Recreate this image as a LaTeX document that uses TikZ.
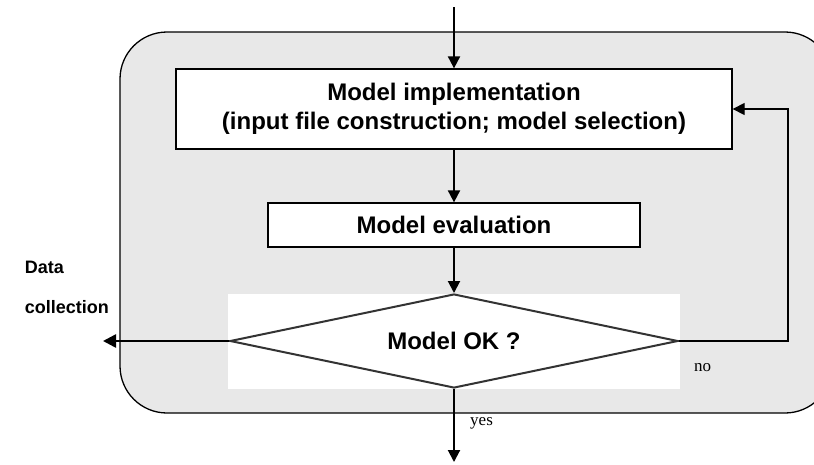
\documentclass[tikz,border=0pt]{standalone}
\usepackage{fontspec}
\setmainfont{Liberation Serif}
\setsansfont{Liberation Sans}
\usetikzlibrary{arrows.meta,shapes.geometric}
\definecolor{panel}{RGB}{232,232,232}
\definecolor{diaedge}{RGB}{51,51,51}
\tikzset{
  stepbox/.style={draw=black,line width=1.3pt,fill=white,inner sep=0pt,align=center,
    font=\sffamily\bfseries\fontsize{24}{29}\selectfont},
  flow/.style={line width=2pt,-{Triangle[length=12pt,width=12pt]}},
  thinflow/.style={line width=1.3pt,-{Triangle[length=12pt,width=12pt]}},
  smalllabel/.style={font=\rmfamily\fontsize{17}{20}\selectfont,inner sep=0pt,anchor=north west},
}
\begin{document}
\begin{tikzpicture}[x=1pt,y=-1pt]
\path[use as bounding box] (0,0) rectangle (814,464);
\begin{scope}
  \clip (0,0) rectangle (814,464);
  \draw[fill=panel,line width=1.3pt,rounded corners=47pt] (120,32) rectangle (832,413);
\end{scope}
\node[stepbox,minimum width=556pt,minimum height=80pt] (impl) at (454,109)
  {Model implementation\\(input file construction; model selection)};
\node[stepbox,minimum width=372pt,minimum height=44pt] (eval) at (454,225) {Model evaluation};
\node[fill=white,minimum width=452pt,minimum height=95pt,inner sep=0pt] (bg) at (454,341.5) {};
\node[diamond,draw=diaedge,line width=2pt,fill=white,minimum width=448pt,minimum height=94pt,
  inner sep=0pt,aspect=4.77,font=\sffamily\bfseries\fontsize{24}{29}\selectfont] (ok) at (454,341) {Model OK ?};
\coordinate (topin) at (454,7);
\coordinate (bottomout) at (454,462);
\coordinate (leftout) at (103,341);
\coordinate (fbright) at (788,341);
\coordinate (fbtop) at (788,109);
\draw[flow] (topin) -- (impl.north);
\draw[flow] (impl.south) -- (eval.north);
\draw[flow] (eval.south) -- (ok.north);
\draw[flow] (ok.south) -- (bottomout);
\draw[line width=2.5pt,-{Triangle[length=13pt,width=13pt]}] (ok.west) -- (leftout);
\draw[thinflow] (ok.east) -- (fbright) -- (fbtop) -- (impl.east);
\node[align=left,anchor=south east,inner sep=0pt,font=\sffamily\bfseries\fontsize{18}{40}\selectfont] (data) at (109,314) {Data\\collection};
\node[smalllabel] (no) at (694,363) {no};
\node[smalllabel] (yes) at (470,417) {yes};
\end{tikzpicture}
\end{document}
